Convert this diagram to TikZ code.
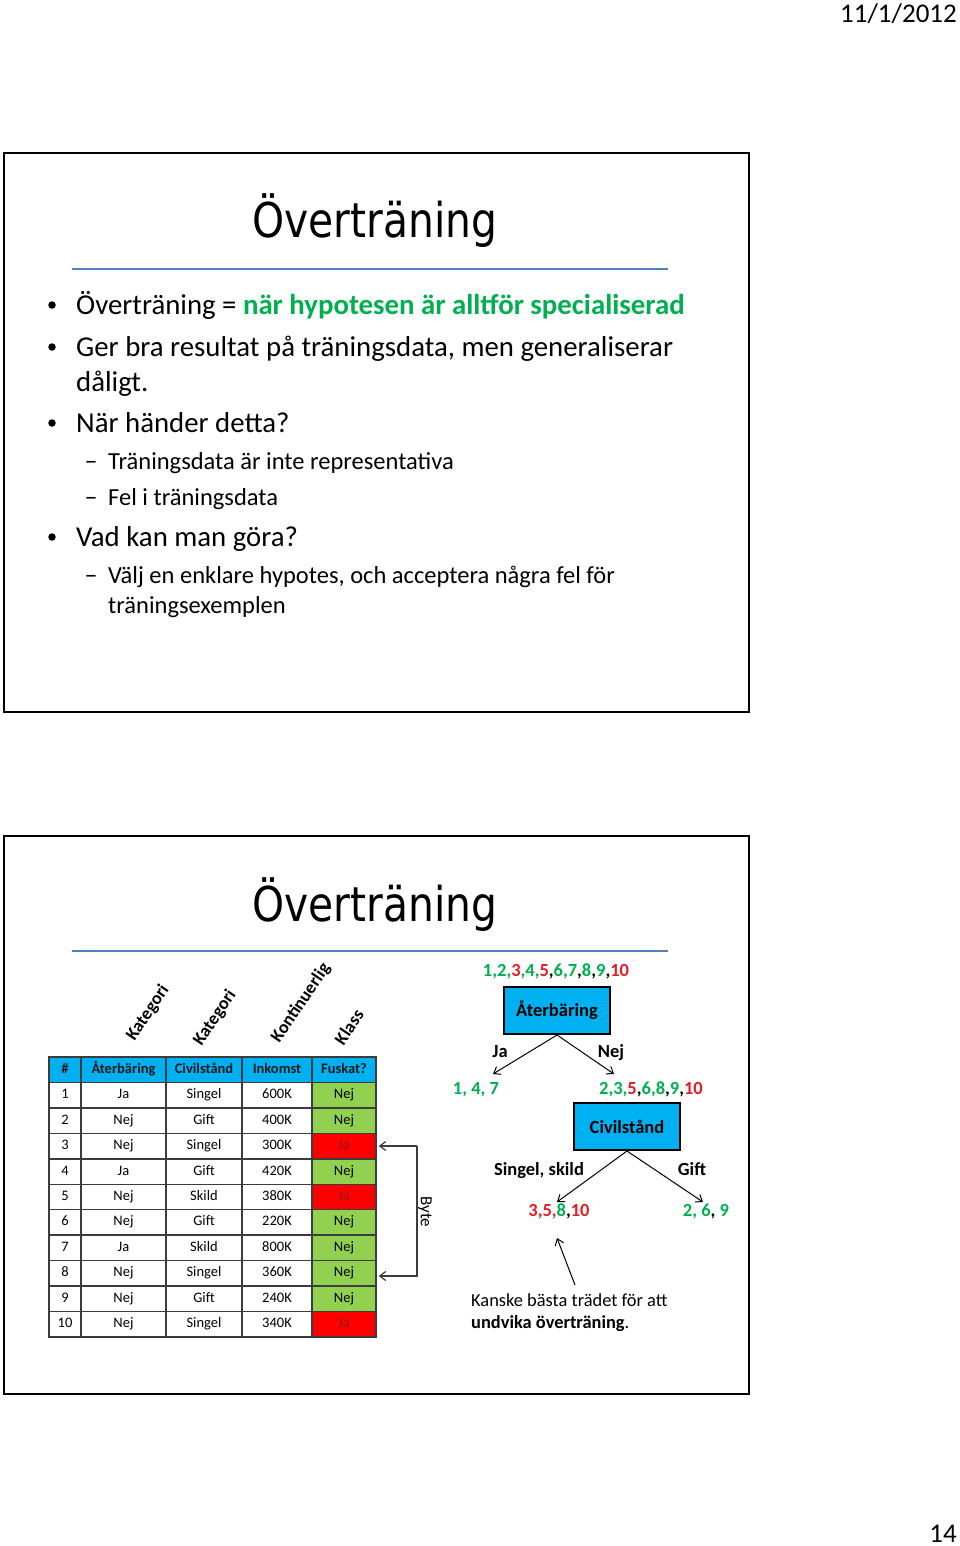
\documentclass[tikz,border=0pt]{standalone}
\usepackage{fontspec}
\setmainfont{Carlito}
\newfontfamily\titlefont{DejaVu Sans}
\usetikzlibrary{arrows.meta}
\definecolor{grn}{RGB}{0,176,80}
\definecolor{rd}{RGB}{228,28,36}
\definecolor{hdr}{RGB}{0,176,240}
\definecolor{cellg}{RGB}{146,208,80}
\definecolor{cellr}{RGB}{255,0,0}
\definecolor{jatext}{RGB}{150,20,20}
\definecolor{rulecol}{RGB}{79,129,189}
\definecolor{gridcol}{RGB}{60,60,60}
\definecolor{hdrtext}{RGB}{25,25,25}
\newcommand{\G}[1]{\textcolor{grn}{#1}}
\newcommand{\R}[1]{\textcolor{rd}{#1}}
\begin{document}
\begin{tikzpicture}[x=1pt,y=-1pt,
  slideframe/.style={draw=black,line width=2},
  titlerule/.style={draw=rulecol,line width=2},
  slidetitle/.style={anchor=base,inner sep=0,font=\titlefont\fontsize{48}{56}\selectfont},
  lvlone/.style={anchor=base west,inner sep=0,font=\fontsize{28.8}{34}\selectfont},
  lvltwo/.style={anchor=base west,inner sep=0,font=\fontsize{24.5}{29}\selectfont},
  bul/.style={circle,fill=black,inner sep=0,minimum size=7.5},
  dashmark/.style={anchor=base,inner sep=0,font=\fontsize{26}{29}\selectfont},
  hdrinfo/.style={anchor=base east,inner sep=0,font=\fontsize{27}{32}\selectfont},
  rotlab/.style={rotate=56,inner sep=0,font=\bfseries\fontsize{18}{21}\selectfont},
  cell/.style={draw=gridcol,line width=1.5,inner sep=0,minimum height=25.45,
     text height=10pt,text depth=3pt,font=\fontsize{14.5}{17}\selectfont},
  hcell/.style={cell,fill=hdr,text=hdrtext,font=\bfseries\fontsize{14.5}{17}\selectfont},
  treebox/.style={draw=black,line width=2,fill=hdr,minimum width=106,minimum height=47,
     inner sep=0,font=\bfseries\fontsize{18.5}{22}\selectfont},
  treelab/.style={inner sep=0,text height=13pt,text depth=4pt,font=\bfseries\fontsize{18.5}{22}\selectfont},
  treearrow/.style={draw=black,line width=1,-{Straight Barb[length=6pt,width=9pt]}},
  bytearrow/.style={draw=gridcol,line width=1.2,-{Straight Barb[length=6pt,width=9pt]}},
  note/.style={anchor=base west,inner sep=0,font=\fontsize{18.4}{22}\selectfont}
]
\useasboundingbox (0,0) rectangle (960,1546);
\fill[white] (0,0) rectangle (960,1546);

% header / footer
\node[hdrinfo] (date) at (957,23) {11/1/2012};
\node[hdrinfo] (pagenum) at (957,1542) {14};

% ---------- slide 1 ----------
\draw[slideframe] (4,153) rectangle (749,712);
\node[slidetitle] (title1) at (375,238) {\scalebox{0.85}[1]{Överträning}};
\draw[titlerule] (72,269) -- (668,269);

\node[bul] (b1) at (52,305) {};
\node[lvlone] (l1) at (76,314) {Överträning = \textcolor{grn}{\bfseries när hypotesen är alltför specialiserad}};
\node[bul] (b2) at (52,347) {};
\node[lvlone] (l2) at (76,356) {Ger bra resultat på träningsdata, men generaliserar};
\node[lvlone] (l3) at (76,391) {dåligt.};
\node[bul] (b3) at (52,423) {};
\node[lvlone] (l4) at (76,432) {När händer detta?};
\node[dashmark] (d1) at (91,469) {–};
\node[lvltwo] (l5) at (108,469) {Träningsdata är inte representativa};
\node[dashmark] (d2) at (91,505) {–};
\node[lvltwo] (l6) at (108,505) {Fel i träningsdata};
\node[bul] (b4) at (52,537) {};
\node[lvlone] (l7) at (76,546) {Vad kan man göra?};
\node[dashmark] (d3) at (91,583) {–};
\node[lvltwo] (l8) at (108,583) {Välj en enklare hypotes, och acceptera några fel för};
\node[lvltwo] (l9) at (108,613) {träningsexemplen};

% ---------- slide 2 ----------
\draw[slideframe] (4,836) rectangle (749,1394);
\node[slidetitle] (title2) at (375,921) {\scalebox{0.85}[1]{Överträning}};
\draw[titlerule] (72,951) -- (668,951);

% rotated column labels
\node[rotlab] (kat1) at (148,1013) {Kategori};
\node[rotlab] (kat2) at (215,1018) {Kategori};
\node[rotlab] (kont) at (301,1003) {Kontinuerlig};
\node[rotlab] (klass) at (349,1027) {Klass};

% table header
\node[hcell,minimum width=32] (h1) at (65,1069.725) {\#};
\node[hcell,minimum width=85] (h2) at (123.5,1069.725) {Återbäring};
\node[hcell,minimum width=76] (h3) at (204,1069.725) {Civilstånd};
\node[hcell,minimum width=70] (h4) at (277,1069.725) {Inkomst};
\node[hcell,minimum width=64] (h5) at (344,1069.725) {Fuskat?};

% table rows
\foreach \r/\a/\b/\c/\d/\fc/\tc in {
  1/Ja/Singel/600K/Nej/cellg/black,
  2/Nej/Gift/400K/Nej/cellg/black,
  3/Nej/Singel/300K/Ja/cellr/jatext,
  4/Ja/Gift/420K/Nej/cellg/black,
  5/Nej/Skild/380K/Ja/cellr/jatext,
  6/Nej/Gift/220K/Nej/cellg/black,
  7/Ja/Skild/800K/Nej/cellg/black,
  8/Nej/Singel/360K/Nej/cellg/black,
  9/Nej/Gift/240K/Nej/cellg/black,
  10/Nej/Singel/340K/Ja/cellr/jatext}{
  \pgfmathsetmacro\yy{1069.725+\r*25.45}
  \node[cell,minimum width=32] (n\r) at (65,\yy) {\r};
  \node[cell,minimum width=85] (a\r) at (123.5,\yy) {\a};
  \node[cell,minimum width=76] (c\r) at (204,\yy) {\b};
  \node[cell,minimum width=70] (i\r) at (277,\yy) {\c};
  \node[cell,minimum width=64,fill=\fc,text=\tc] (f\r) at (344,\yy) {\d};
}
\draw[gridcol,line width=1.5] (49,1057) rectangle (376,1336.5);

% Byte arrows
\coordinate (byteA) at (417,1146);
\coordinate (byteB) at (417,1276);
\draw[bytearrow] (byteA) -- ([xshift=2pt]f3.east |- byteA);
\draw[bytearrow] (byteA) -- (byteB) -- ([xshift=2pt]f8.east |- byteB);
\node[rotate=-90,inner sep=0,font=\fontsize{17}{20}\selectfont] (byte) at (425,1212) {Byte};

% decision tree
\node[treelab] (all) at (556,972) {\G{1,2,}\R{3}\G{,4,}\R{5},\G{6,7},\G{8},\G{9},\R{10}};
\node[treebox] (aterb) at (557,1010.5) {Återbäring};
\coordinate (jaend) at (493,1074);
\coordinate (nejend) at (614,1074);
\draw[treearrow] (aterb.south) -- (jaend);
\draw[treearrow] (aterb.south) -- (nejend);
\node[treelab] (jalab) at (500,1053) {Ja};
\node[treelab] (nejlab) at (611,1053) {Nej};
\node[treelab] (ja147) at (476,1090) {\G{1, 4, 7}};
\node[treelab] (nejset) at (651,1090) {\G{2,3,}\R{5},\G{6,8},\G{9},\R{10}};

\node[treebox] (civil) at (627,1126.5) {Civilstånd};
\coordinate (singend) at (557,1202);
\coordinate (giftend) at (703,1202);
\draw[treearrow] (civil.south) -- (singend);
\draw[treearrow] (civil.south) -- (giftend);
\node[treelab] (singlab) at (539,1171) {Singel, skild};
\node[treelab] (giftlab) at (692,1171) {Gift};
\node[treelab] (singset) at (559,1212) {\R{3,5,}\G{8},\R{10}};
\node[treelab] (giftset) at (706,1212) {\G{2, 6}, \G{9}};

\coordinate (notetail) at (575,1285);
\coordinate (notetip) at (557,1238);
\draw[treearrow] (notetail) -- (notetip);
\node[note] (note1) at (471,1306) {Kanske bästa trädet för att};
\node[note] (note2) at (471,1328) {\textbf{undvika överträning}.};
\end{tikzpicture}
\end{document}
